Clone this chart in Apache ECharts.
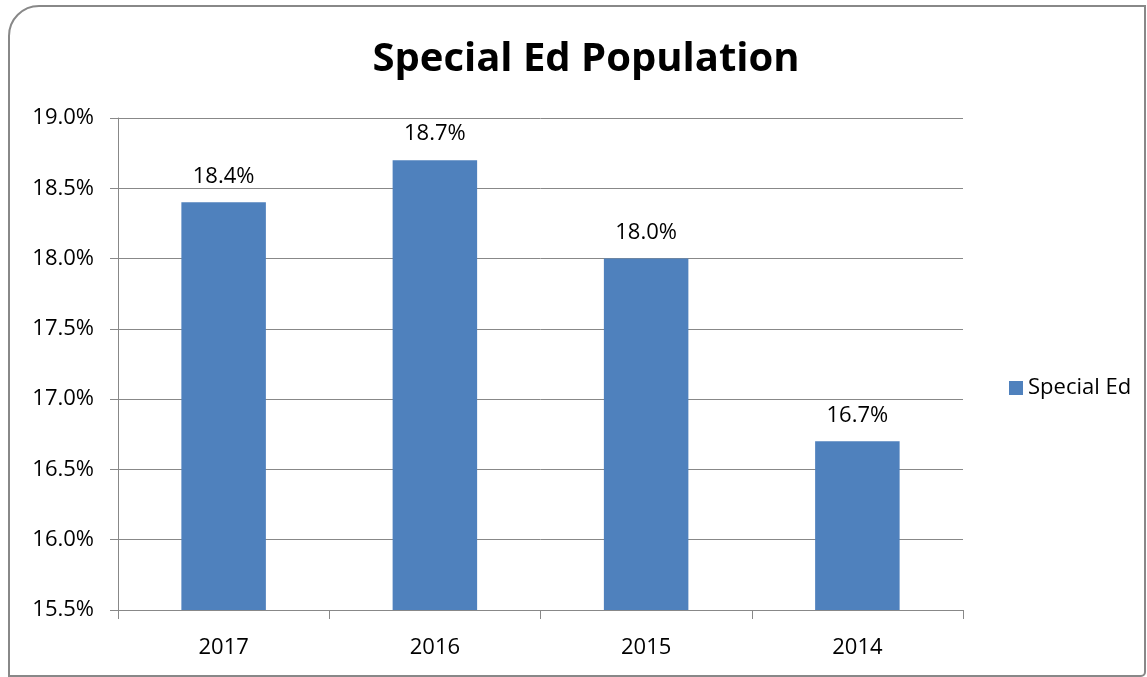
<!DOCTYPE html>
<html>
<head>
<meta charset="utf-8">
<script src="https://cdn.jsdelivr.net/npm/echarts@6/dist/echarts.min.js"></script>
<style>
  html, body { margin: 0; padding: 0; background: #fff; }
</style>
</head>
<body>
<div id="mainChart" style="width: 1147px; height: 677px"></div>
<script>
// data
const years = ["2017", "2016", "2015", "2014"];
const specialEd = [18.4, 18.7, 18.0, 16.7];

const chart = echarts.init(document.getElementById("mainChart"));
const font = "'Open Sans', 'Liberation Sans', sans-serif";

const option = {
  animation: false,
  title: {
    text: "Special Ed Population",
    left: 581,
    textAlign: "center",
    top: 35,
    textStyle: { fontSize: 40, fontWeight: "bold", color: "#000", fontFamily: font },
  },
  legend: {
    data: ["Special Ed"],
    left: 1004,
    top: 372,
    itemWidth: 14,
    itemHeight: 14,
    itemGap: 8,
    icon: "rect",
    textStyle: { fontSize: 22, color: "#000", fontFamily: font },
  },
  grid: { left: 118, right: 184, top: 118, bottom: 67 },
  xAxis: {
    type: "category",
    data: years,
    axisLine: { lineStyle: { color: "#888", width: 1 } },
    axisTick: { show: true, length: 9, lineStyle: { color: "#888" } },
    axisLabel: { color: "#000", fontSize: 22, margin: 27, fontFamily: font },
  },
  yAxis: {
    type: "value",
    min: 15.5,
    max: 19.0,
    interval: 0.5,
    axisLine: { show: true, lineStyle: { color: "#888", width: 1 } },
    axisTick: { show: true, length: 8, lineStyle: { color: "#888" } },
    splitLine: { lineStyle: { color: "#888", width: 1 } },
    axisLabel: {
      color: "#000",
      fontSize: 22,
      margin: 24,
      fontFamily: font,
      formatter: (v) => v.toFixed(1) + "%",
    },
  },
  series: [
    {
      name: "Special Ed",
      type: "bar",
      data: specialEd,
      barWidth: "40%",
      itemStyle: { color: "#4f81bd" },
      label: {
        show: true,
        position: "top",
        distance: 15,
        color: "#000",
        fontSize: 22,
        fontFamily: font,
        formatter: (p) => p.value.toFixed(1) + "%",
      },
    },
  ],
  graphic: [
    {
      type: "rect",
      shape: { x: 9, y: 6, width: 1136, height: 670, r: [30, 0, 4, 0] },
      style: { fill: "none", stroke: "#888", lineWidth: 2 },
      silent: true,
    },
  ],
};

chart.setOption(option);
</script>
</body>
</html>
